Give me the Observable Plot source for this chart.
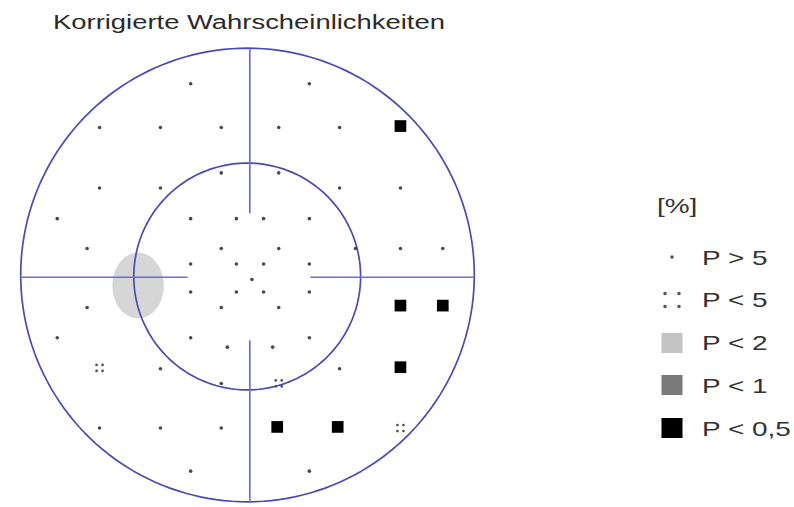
<!DOCTYPE html>
<html><head><meta charset="utf-8">
<script src="https://cdn.jsdelivr.net/npm/d3@7"></script>
<script src="https://cdn.jsdelivr.net/npm/@observablehq/plot@0.6"></script>
<style>
body{margin:0;background:#fff;font-family:"Liberation Sans",Arial,sans-serif;}
#wrap{position:relative;width:794px;height:507px;overflow:hidden;background:#fff;}
#chart{position:absolute;left:0;top:0;}
#title{position:absolute;left:53px;top:12px;font-size:20px;line-height:20px;color:#2a2a2a;transform:scaleX(1.37);transform-origin:0 0;white-space:nowrap;}
.lg{position:absolute;font-size:21px;line-height:21px;color:#333;transform:scaleX(1.33);transform-origin:0 0;white-space:nowrap;}
.sym{position:absolute;}
</style></head><body>
<div id="wrap"><div id="chart"></div><div id="title"></div><div id="legend"></div></div>
<script>
// ---- Data (degrees of visual field) ----
const titleText = "Korrigierte Wahrscheinlichkeiten";
const legendTitle = "[%]";
const legendLabels = ["P > 5", "P < 5", "P < 2", "P < 1", "P < 0,5"];
const legendClasses = [">5", "<5", "<2", "<1", "<0.5"];

const pointX = [-15.7, 15.7, -39.8, -23.7, -7.6, 7.6, 23.7, 39.8, -7.6, 7.6,
  -39.8, -23.7, 23.7, 39.8, -51.0, -15.7, -3.6, 3.6, 15.7, -43.1,
  -7.6, 7.6, 27.9, 39.8, 51.0, -15.7, -3.6, 3.6, 15.7, 0.5,
  -15.7, -3.6, 3.6, 15.7, -43.1, -7.6, 7.6, 39.8, 51.0, -51.0,
  -15.7, 15.7, -6.0, 6.0, -39.8, -23.7, 23.7, 39.8, -7.6, 7.6,
  -39.8, -23.7, -7.6, 7.2, 23.2, 39.8, -15.7, 15.7];
const pointY = [51.4, 51.4, 39.8, 39.8, 39.8, 39.8, 39.8, 40.2, 27.8, 27.8,
  23.8, 23.8, 23.8, 23.8, 15.7, 15.7, 15.7, 15.7, 15.7, 7.8,
  7.8, 7.8, 7.8, 7.8, 7.8, 3.7, 3.7, 3.7, 3.7, -0.4,
  -3.7, -3.7, -3.7, -3.7, -7.8, -7.8, -7.8, -7.3, -7.3, -15.8,
  -15.8, -15.8, -18.3, -18.3, -23.8, -24.0, -24.0, -23.6, -27.9, -27.9,
  -39.7, -39.7, -39.7, -39.4, -39.4, -39.7, -51.1, -51.1];
const pointClass = [">5", ">5", ">5", ">5", ">5", ">5", ">5", "<0.5", ">5", ">5",
  ">5", ">5", ">5", ">5", ">5", ">5", ">5", ">5", ">5", ">5",
  ">5", ">5", ">5", ">5", ">5", ">5", ">5", ">5", ">5", ">5",
  ">5", ">5", ">5", ">5", ">5", ">5", ">5", "<0.5", "<0.5", ">5",
  ">5", ">5", ">5", ">5", "<5", ">5", ">5", "<0.5", ">5", "<5",
  ">5", ">5", ">5", "<0.5", "<0.5", "<5", ">5", ">5"];

// shaded P<2 area (centre and half-axes, degrees)
const shadeCenter = [-29.6, -2.0];
const shadeHalfAxes = [6.8, 8.7];

// outer (60°) and inner (30°) rings: radius, centre x, centre y
const ringRadius = [60, 30];
const ringCx = [-0.66, -0.74];
const ringCy = [0.8, 0.4];

// cross segments: x1, y1, x2, y2
const crossX1 = [-0.05, -0.05, -60.7, 16.0];
const crossY1 = [17.1, -16.5, 0.2, 0.2];
const crossX2 = [-0.05, -0.05, -16.5, 59.2];
const crossY2 = [60.5, -59.4, 0.2, 0.2];

// ---- styles ----
const colors = {">5": "#484848", "<5": "#505050", "<2": "#c4c4c4", "<1": "#7a7a7a", "<0.5": "#000"};
const ringColor = "#4a4ab2";
const crossColor = "#6d6dd4";

// ---- build tables ----
const points = pointX.map((x, i) => ({x, y: pointY[i], c: pointClass[i]}));
const ringPts = ringRadius.flatMap((r, i) => d3.range(0, 361, 2).map(a => ({
  ring: i,
  x: ringCx[i] + r * Math.cos(a * Math.PI / 180),
  y: ringCy[i] + r * Math.sin(a * Math.PI / 180)
})));
const shadePts = d3.range(0, 361, 4).map(a => ({
  x: shadeCenter[0] + shadeHalfAxes[0] * Math.cos(a * Math.PI / 180),
  y: shadeCenter[1] + shadeHalfAxes[1] * Math.sin(a * Math.PI / 180)
}));
const cross = crossX1.map((x1, i) => ({x1, y1: crossY1[i], x2: crossX2[i], y2: crossY2[i]}));

function fourDots(d, r) {
  return {draw(ctx) {
    for (const [dx, dy] of [[-d, -d], [d, -d], [-d, d], [d, d]]) {
      ctx.moveTo(dx + r, dy);
      ctx.arc(dx, dy, r, 0, 2 * Math.PI);
    }
  }};
}

// ---- layout: px per degree and centre ----
const k = 3.78, cx = 249.5, cy = 277.5, W = 494, H = 507, half = 60.6;
const mL = cx - half * k, mR = W - mL - 2 * half * k;
const mT = cy - half * k, mB = H - mT - 2 * half * k;

const chart = Plot.plot({
  width: W, height: H,
  marginLeft: mL, marginRight: mR, marginTop: mT, marginBottom: mB,
  x: {domain: [-half, half], axis: null},
  y: {domain: [-half, half], axis: null},
  style: {background: "transparent"},
  marks: [
    Plot.line(shadePts, {x: "x", y: "y", fill: colors["<2"], stroke: null, curve: "linear-closed", fillOpacity: 0.7}),
    Plot.line(ringPts, {x: "x", y: "y", z: "ring", stroke: ringColor, strokeWidth: 1.7}),
    Plot.link(cross, {x1: "x1", y1: "y1", x2: "x2", y2: "y2", stroke: crossColor, strokeWidth: 1.7}),
    Plot.dot(points.filter(d => d.c === ">5"), {x: "x", y: "y", r: 1.8, fill: colors[">5"], stroke: null}),
    Plot.dot(points.filter(d => d.c === "<5"), {x: "x", y: "y", r: 3, symbol: fourDots(3, 1.35), fill: colors["<5"], stroke: null}),
    Plot.dot(points.filter(d => d.c === "<0.5"), {x: "x", y: "y", r: 6.6, symbol: "square", fill: colors["<0.5"], stroke: null})
  ]
});
document.getElementById("chart").appendChild(chart);
document.getElementById("title").textContent = titleText;

// ---- legend ----
const legend = document.getElementById("legend");
const lt = document.createElement("div");
lt.className = "lg"; lt.style.left = "657px"; lt.style.top = "195px"; lt.textContent = legendTitle;
legend.appendChild(lt);
const ns = "http://www.w3.org/2000/svg";
legendLabels.forEach((label, i) => {
  const yc = 257 + i * 42.75;
  const t = document.createElement("div");
  t.className = "lg"; t.style.left = "702px"; t.style.top = (yc - 10.5) + "px"; t.textContent = label;
  legend.appendChild(t);
  const s = document.createElementNS(ns, "svg");
  s.setAttribute("width", 26); s.setAttribute("height", 26);
  s.setAttribute("class", "sym");
  s.style.left = (672 - 13) + "px"; s.style.top = (yc - 13) + "px";
  const c = legendClasses[i];
  if (c === ">5") {
    const e = document.createElementNS(ns, "circle");
    e.setAttribute("cx", 13); e.setAttribute("cy", 13); e.setAttribute("r", 1.7); e.setAttribute("fill", colors[c]);
    s.appendChild(e);
  } else if (c === "<5") {
    for (const [dx, dy] of [[-7, -6.5], [7, -6.5], [-7, 6.5], [7, 6.5]]) {
      const e = document.createElementNS(ns, "circle");
      e.setAttribute("cx", 13 + dx); e.setAttribute("cy", 13 + dy); e.setAttribute("r", 1.7); e.setAttribute("fill", colors[c]);
      s.appendChild(e);
    }
  } else {
    const e = document.createElementNS(ns, "rect");
    e.setAttribute("x", 2.5); e.setAttribute("y", 3); e.setAttribute("width", 21); e.setAttribute("height", 20); e.setAttribute("fill", colors[c]);
    s.appendChild(e);
  }
  legend.appendChild(s);
});
</script>
</body></html>
